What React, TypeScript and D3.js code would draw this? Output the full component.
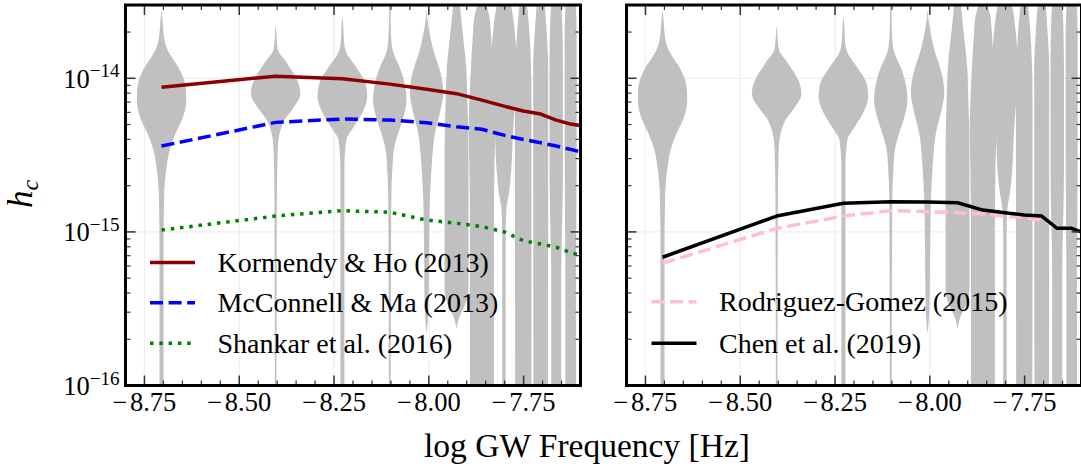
import React from "react";
import * as d3 from "d3";

// ---------- data ----------
const xDomain = [-8.8, -7.6];
const yDomain = [1e-16, 3e-14];

const xMajorTicks = [-8.75, -8.5, -8.25, -8.0, -7.75];
const xTickLabels = ["8.75", "8.50", "8.25", "8.00", "7.75"];
const yMajorTicks = [1e-16, 1e-15, 1e-14];
const yTickExponents = ["\u221216", "\u221215", "\u221214"];

// log10 GW frequency of each bin (violin centres and curve nodes)
const freqs = [-8.705, -8.404, -8.228, -8.103, -8.006, -7.927, -7.86, -7.802, -7.751, -7.705, -7.664, -7.626, -7.591];

// log10 h_c of each model curve
const kormendy = [-14.059, -13.986, -14.003, -14.038, -14.072, -14.1, -14.142, -14.181, -14.213, -14.233, -14.272, -14.298, -14.311];
const mcconnell = [-14.441, -14.287, -14.265, -14.272, -14.289, -14.316, -14.332, -14.37, -14.398, -14.42, -14.441, -14.463, -14.484];
const shankar = [-14.988, -14.897, -14.862, -14.872, -14.923, -14.944, -14.966, -14.999, -15.057, -15.079, -15.1, -15.135, -15.157];
const rodriguez = [-15.204, -14.977, -14.897, -14.862, -14.868, -14.875, -14.884, -14.897, -14.908, -14.923, -14.962, -14.979, -14.99];
const chen = [-15.165, -14.897, -14.814, -14.803, -14.805, -14.81, -14.858, -14.875, -14.89, -14.897, -14.977, -14.977, -15.01];

// violin profiles: [log10 h_c, half width in log10 frequency]
const v1 = [[-13.55, 0], [-13.62, 0.0026], [-13.75, 0.0079], [-13.82, 0.0171], [-13.86, 0.0264], [-13.93, 0.0448], [-14.0, 0.058], [-14.08, 0.0646], [-14.14, 0.0651], [-14.22, 0.0607], [-14.3, 0.0488], [-14.36, 0.0369], [-14.47, 0.0211], [-14.58, 0.0132], [-14.79, 0.0066], [-15.1, 0.0053], [-16.5, 0.0053]];
const v2 = [[-13.65, 0], [-13.71, 0.0018], [-13.78, 0.004], [-13.82, 0.0066], [-13.88, 0.0237], [-13.94, 0.0396], [-13.99, 0.0527], [-14.1, 0.0654], [-14.19, 0.0475], [-14.27, 0.0237], [-14.36, 0.0105], [-14.47, 0.0053], [-14.79, 0.0032], [-16.5, 0.0018]];
const v3 = [[-13.6, 0], [-13.65, 0.0021], [-13.75, 0.004], [-13.82, 0.0087], [-13.93, 0.0369], [-14.03, 0.0607], [-14.12, 0.0654], [-14.21, 0.0554], [-14.32, 0.029], [-14.4, 0.0105], [-14.58, 0.0053], [-16.5, 0.0053]];
const v4 = [[-13.45, 0.0018], [-13.6, 0.0021], [-13.75, 0.004], [-13.82, 0.0079], [-13.93, 0.0264], [-14.03, 0.0388], [-14.14, 0.044], [-14.25, 0.0361], [-14.36, 0.0219], [-14.47, 0.0105], [-14.58, 0.0071], [-14.77, 0.004], [-16.5, 0.0021]];
const v5 = [[-13.55, 0], [-13.62, 0.0026], [-13.72, 0.0092], [-13.82, 0.0185], [-13.93, 0.033], [-14.03, 0.0422], [-14.1, 0.044], [-14.19, 0.0382], [-14.36, 0.0219], [-14.58, 0.0132], [-14.79, 0.0087], [-15.01, 0.0071], [-15.44, 0.0053], [-15.6, 0.0026], [-15.66, 0]];
const v6 = [[-13.3, 0], [-13.52, 0.0092], [-13.6, 0.0119], [-13.71, 0.0166], [-13.93, 0.0256], [-14.14, 0.0285], [-14.36, 0.0309], [-14.58, 0.0316], [-14.99, 0.0316], [-15.38, 0.0316], [-15.49, 0.0198], [-15.55, 0.0079], [-15.63, 0]];
const v7 = [[-13.3, 0], [-13.52, 0.0119], [-13.6, 0.0198], [-13.71, 0.0237], [-13.93, 0.029], [-14.14, 0.033], [-14.36, 0.0351], [-14.58, 0.033], [-15.0, 0.0316], [-16.5, 0.0316]];
const v8 = [[-13.35, 0], [-13.52, 0.0185], [-13.71, 0.029], [-13.93, 0.0343], [-14.14, 0.0298], [-14.36, 0.0237], [-14.58, 0.0198], [-14.75, 0.0132], [-14.85, 0.0066], [-15.0, 0.0045], [-16.5, 0.0045]];
const v9 = [[-13.3, 0], [-13.52, 0.0098], [-13.71, 0.0166], [-13.93, 0.0206], [-14.14, 0.0219], [-16.5, 0.0211]];
const v10 = [[-13.3, 0], [-13.52, 0.0105], [-13.71, 0.0158], [-13.93, 0.0198], [-16.5, 0.019]];
const v11 = [[-13.3, 0], [-13.52, 0.0132], [-13.71, 0.0166], [-13.93, 0.0177], [-14.6, 0.0177], [-15.3, 0.0132], [-16.5, 0.0132]];
const v12 = [[-13.3, 0], [-13.52, 0.0132], [-13.71, 0.0158], [-14.5, 0.0158], [-15.3, 0.014], [-16.5, 0.014]];
const violins = [v1, v2, v3, v4, v5, v6, v7, v8, v9, v10, v11, v12];

const leftSeries = [
  { name: "Kormendy & Ho (2013)", values: kormendy, color: "#8b0000", dash: "" },
  { name: "McConnell & Ma (2013)", values: mcconnell, color: "#0000ff", dash: "13,5.6" },
  { name: "Shankar et al. (2016)", values: shankar, color: "#008000", dash: "3.5,5.8" },
];
const rightSeries = [
  { name: "Rodriguez-Gomez (2015)", values: rodriguez, color: "#ffc0cb", dash: "13,5.6" },
  { name: "Chen et al. (2019)", values: chen, color: "#000000", dash: "" },
];

// ---------- layout ----------
const W = 1081;
const H = 467;
const Y0 = 5;
const Y1 = 385.5;
const FONT = "'Liberation Serif', 'Times New Roman', Times, serif";
const LW = 3.5;

type Series = { name: string; values: number[]; color: string; dash: string };

function Panel(props: {
  id: string;
  x0: number;
  x1: number;
  series: Series[];
  legendRows: number[];
  yLabels: boolean;
  legendX: number;
}) {
  const { id, x0, x1, series, legendRows, yLabels, legendX } = props;
  const xs = d3.scaleLinear().domain(xDomain).range([x0, x1]);
  const ys = d3.scaleLog().domain(yDomain).range([Y1, Y0]);

  const xMinor = d3.range(0, 25).map((i) => Math.round((xDomain[0] + i * 0.05) * 100) / 100);
  const yMinor: number[] = [];
  for (let e = -16; e <= -14; e++) {
    for (let m = 2; m <= 9; m++) {
      const v = m * Math.pow(10, e);
      if (v <= yDomain[1] * 1.0001) yMinor.push(v);
    }
  }

  const line = d3
    .line<number>()
    .x((_, i) => xs(freqs[i]))
    .y((d) => ys(Math.pow(10, d)));

  const tickColor = "#333";
  const maj = 10;
  const mn = 5;

  return (
    <g>
      <defs>
        <clipPath id={id}>
          <rect x={x0} y={Y0} width={x1 - x0} height={Y1 - Y0} />
        </clipPath>
      </defs>
      {/* grid */}
      <g stroke="#efefef" strokeWidth={1.3}>
        {xMajorTicks.map((t) => (
          <line key={"gx" + t} x1={xs(t)} x2={xs(t)} y1={Y0} y2={Y1} />
        ))}
        {yMajorTicks.map((t) => (
          <line key={"gy" + t} x1={x0} x2={x1} y1={ys(t)} y2={ys(t)} />
        ))}
      </g>
      {/* violins */}
      <g clipPath={`url(#${id})`}>
        {violins.map((prof, i) => {
          const c = freqs[i];
          const area = d3
            .area<number[]>()
            .curve(d3.curveMonotoneY)
            .y((d) => ys(Math.pow(10, d[0])))
            .x0((d) => xs(c - d[1]))
            .x1((d) => xs(c + d[1]));
          return <path key={"v" + i} d={area(prof) || ""} fill="#c0c0c0" stroke="none" />;
        })}
        {series.map((s) => (
          <path
            key={s.name}
            d={line(s.values) || ""}
            fill="none"
            stroke={s.color}
            strokeWidth={LW}
            strokeDasharray={s.dash || undefined}
            strokeLinejoin="round"
          />
        ))}
      </g>
      {/* ticks */}
      <g stroke={tickColor}>
        {xMinor.map((t) => {
          const isMaj = xMajorTicks.some((m) => Math.abs(m - t) < 1e-6);
          const L = isMaj ? maj : mn;
          return (
            <g key={"xt" + t} strokeWidth={isMaj ? 1.5 : 1.2}>
              <line x1={xs(t)} x2={xs(t)} y1={Y1} y2={Y1 - L} />
              <line x1={xs(t)} x2={xs(t)} y1={Y0} y2={Y0 + L} />
            </g>
          );
        })}
        {yMajorTicks.map((t) => (
          <g key={"yM" + t} strokeWidth={1.5}>
            <line x1={x0} x2={x0 + maj} y1={ys(t)} y2={ys(t)} />
            <line x1={x1} x2={x1 - maj} y1={ys(t)} y2={ys(t)} />
          </g>
        ))}
        {yMinor.map((t) => (
          <g key={"ym" + t} strokeWidth={1.2}>
            <line x1={x0} x2={x0 + mn} y1={ys(t)} y2={ys(t)} />
            <line x1={x1} x2={x1 - mn} y1={ys(t)} y2={ys(t)} />
          </g>
        ))}
      </g>
      {/* spines */}
      <rect x={x0} y={Y0} width={x1 - x0} height={Y1 - Y0} fill="none" stroke="#000" strokeWidth={3} />
      {/* x tick labels */}
      <g fontFamily={FONT} fontSize={26.5} fill="#000" textAnchor="middle">
        {xMajorTicks.map((t, i) => (
          <text key={"xl" + t} x={xs(t)} y={410.5}>
            {"\u2212"}
            <tspan dx={2.5}>{xTickLabels[i]}</tspan>
          </text>
        ))}
      </g>
      {/* y tick labels */}
      {yLabels && (
        <g fontFamily={FONT} fill="#000">
          {yMajorTicks.map((t, i) => (
            <text key={"yl" + t} x={x0 - 6} y={ys(t) + 9.5} textAnchor="end" fontSize={26.5}>
              10
              <tspan fontSize={19} dy={-10.5}>
                {yTickExponents[i]}
              </tspan>
            </text>
          ))}
        </g>
      )}
      {/* legend */}
      <g fontFamily={FONT} fontSize={28} fill="#000">
        {series.map((s, i) => (
          <g key={"lg" + s.name}>
            <line
              x1={legendX}
              x2={legendX + 45}
              y1={legendRows[i]}
              y2={legendRows[i]}
              stroke={s.color}
              strokeWidth={LW}
              strokeDasharray={s.dash || undefined}
            />
            <text x={legendX + 67.5} y={legendRows[i] + 9.7}>
              {s.name}
            </text>
          </g>
        ))}
      </g>
    </g>
  );
}

export default function App() {
  return (
    <svg width={W} height={H} style={{ position: "absolute", left: 0, top: 0, background: "#fff" }}>
      <rect x={0} y={0} width={W} height={H} fill="#fff" />
      <Panel id="clipL" x0={125.5} x1={580.5} series={leftSeries} legendRows={[262.5, 302.7, 343.3]} yLabels={true} legendX={150} />
      <Panel id="clipR" x0={626.5} x1={1081.5} series={rightSeries} legendRows={[301.7, 343.3]} yLabels={false} legendX={651.5} />
      <text x={587} y={457} textAnchor="middle" fontFamily={FONT} fontSize={33.5} fill="#000">
        log GW Frequency [Hz]
      </text>
      <text transform="translate(31.5,208) rotate(-90)" fontFamily={FONT} fontStyle="italic" fontSize={35} fill="#000">
        h
        <tspan fontSize={24} dy={6}>
          c
        </tspan>
      </text>
    </svg>
  );
}
